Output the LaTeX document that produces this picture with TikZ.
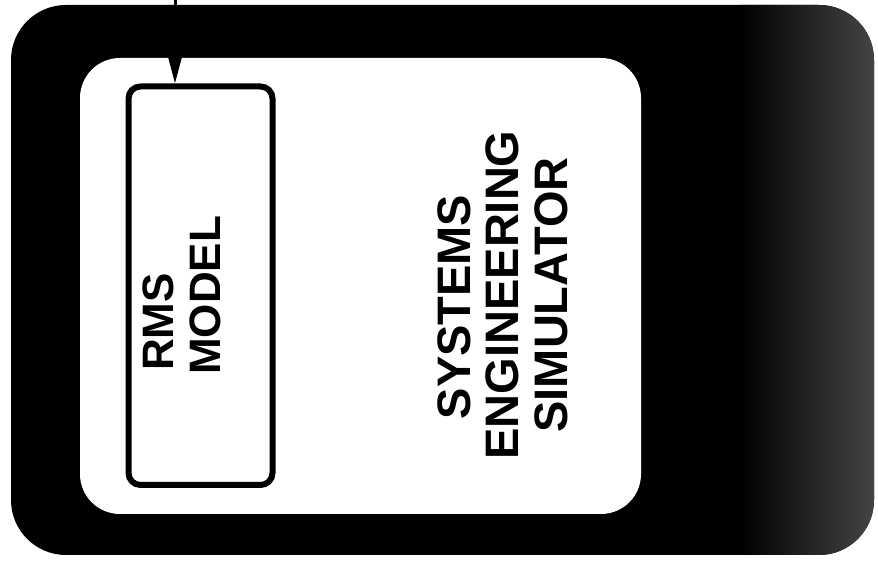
\documentclass[tikz,border=0pt]{standalone}
\usepackage{fontspec}
\setmainfont{Liberation Sans}
\usetikzlibrary{arrows.meta}
\begin{document}
\begin{tikzpicture}[x=1pt,y=1pt,
  frame/.style={fill=black, rounded corners=55pt},
  panel/.style={fill=white, rounded corners=40pt},
  modelbox/.style={draw=black, line width=6pt, fill=white, rounded corners=12pt,
    minimum width=144pt, minimum height=398.5pt, inner sep=0pt},
  boxlabel/.style={font=\bfseries\fontsize{44}{44}\selectfont, rotate=90, inner sep=0pt, anchor=base west},
  titlelabel/.style={font=\bfseries\fontsize{47}{47}\selectfont, rotate=90, inner sep=0pt, anchor=base},
  feed/.style={line width=3pt, -{Triangle[length=30pt,width=15pt]}}
]
\useasboundingbox (0,0) rectangle (878,561);
\fill[white] (0,0) rectangle (878,561);
% dark outer frame
\path[frame] (11,6) rectangle (874,556);
\begin{scope}
  \clip[rounded corners=55pt] (11,6) rectangle (874,556);
  \shade[left color=black, right color=black!68!white] (740,0) rectangle (900,561);
\end{scope}
% white simulator panel
\path[panel] (80,47) rectangle (641,503);
% RMS model box
\node[modelbox] (rms) at (200.5,275.25) {};
% incoming arrow
\coordinate (src) at (175,561);
\draw[feed] (src) -- (src |- rms.north);
% texts
\node[boxlabel] (rmsA) at (173,190) {RMS};
\node[boxlabel] (rmsB) at (220,186) {MODEL};
\node[titlelabel] (t1) at (470,254) {SYSTEMS};
\node[titlelabel] (t2) at (518,266) {ENGINEERING};
\node[titlelabel] (t3) at (567,266) {SIMULATOR};
\end{tikzpicture}
\end{document}
